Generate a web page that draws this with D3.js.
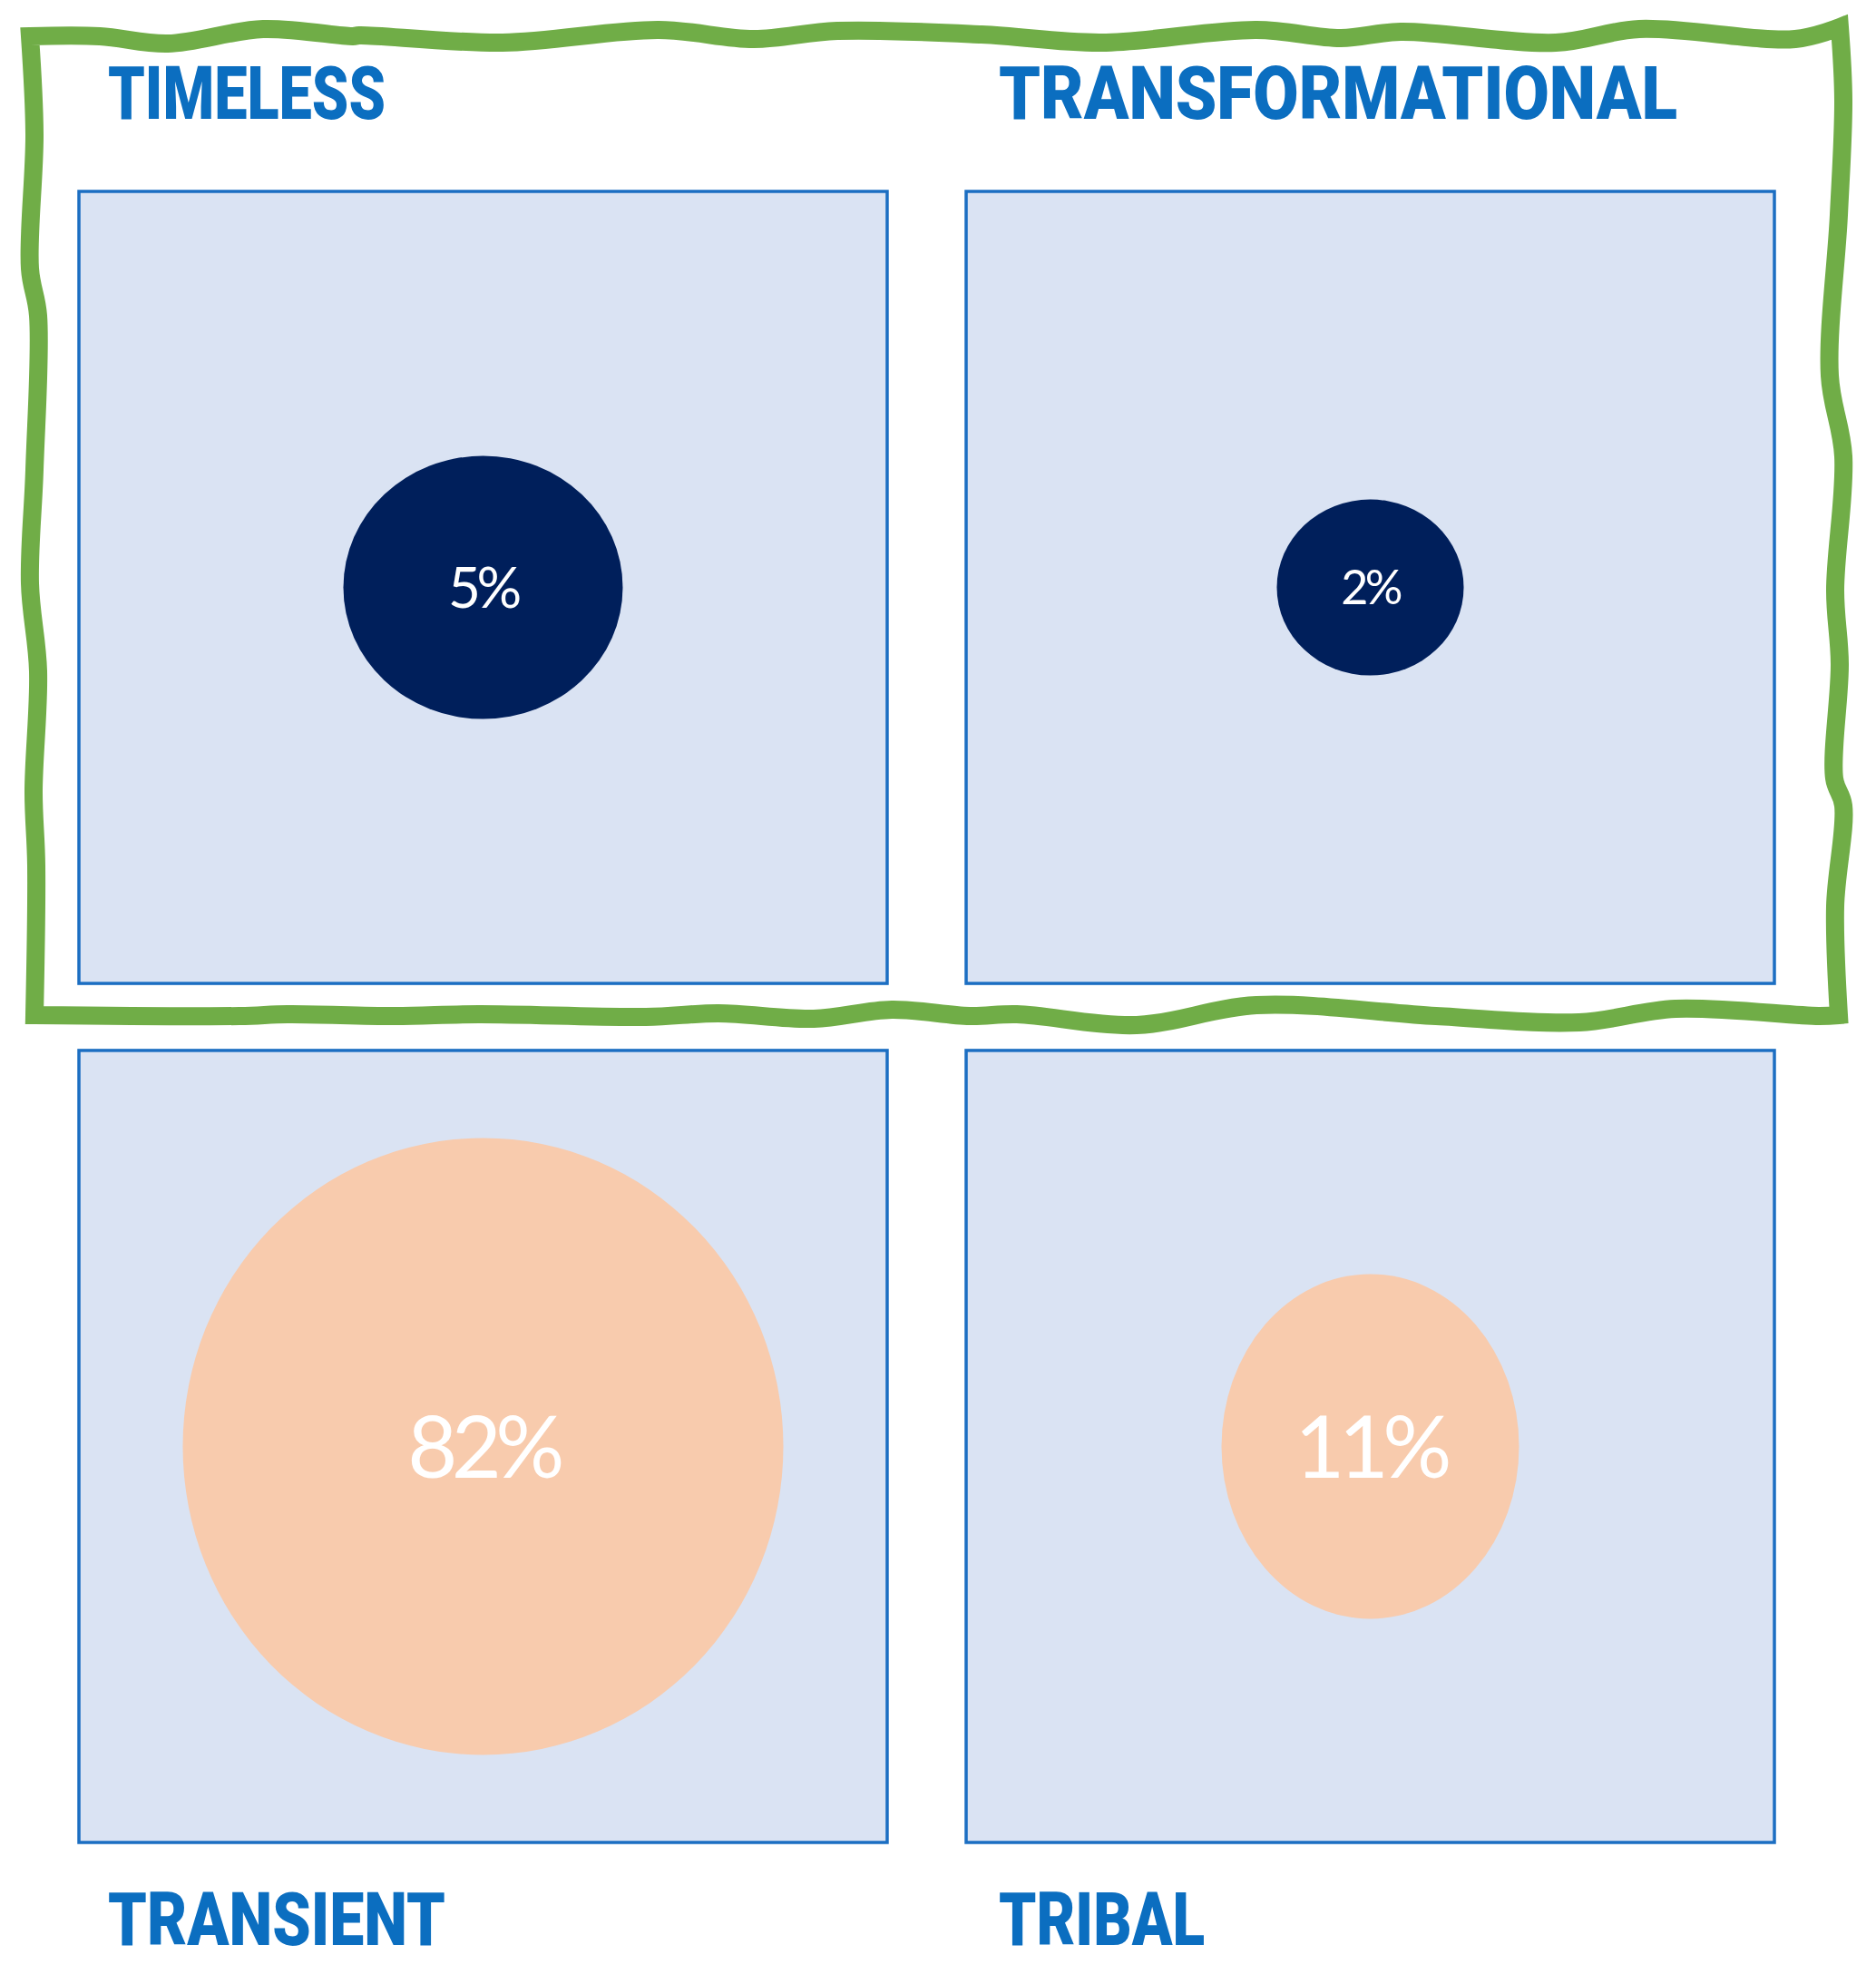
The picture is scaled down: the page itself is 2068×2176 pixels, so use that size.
<!DOCTYPE html>
<html>
<head>
<meta charset="utf-8">
<script src="https://cdn.jsdelivr.net/npm/d3@7"></script>
<style>
  body { margin: 0; background: #ffffff; }
</style>
</head>
<body>
<svg id="chart"></svg>
<script>
// data
const categories = ["TIMELESS", "TRANSFORMATIONAL", "TRANSIENT", "TRIBAL"];
const shares = [5, 2, 82, 11];
const gridCol = [0, 1, 0, 1];
const gridRow = [0, 0, 1, 1];

// hand drawn frame round the top row (decoration)
const frameTop = [[33,40],[110,40],[185,48],[290,32],[389,40],[396,39],[554,47],[726,33],[831,43],[923,34],[1082,38],[1214,47],[1385,33],[1478,42],[1544,35],[1715,47],[1807,32],[1979,43],[2028,30]];
const frameRight = [[2028,30],[2032,111],[2027,237],[2017,414],[2032,503],[2023,651],[2028,732],[2022,858],[2032,888],[2023,999],[2027,1119]];
const frameBottom = [[2027,1119],[2005,1120],[1847,1112],[1741,1127],[1583,1120],[1385,1108],[1253,1130],[1121,1118],[1069,1120],[983,1113],[897,1123],[792,1117],[712,1121],[528,1118],[435,1120],[317,1118],[264,1120],[38,1119]];
const frameLeft = [[38,1119],[40,954],[37,873],[42,740],[33,643],[38,518],[42,348],[33,296],[38,148],[33,40]];

const width = 2068;
const height = 2176;

// title widths, the titles are set in a condensed face
const titleWidth = { TIMELESS: 306, TRANSFORMATIONAL: 748, TRANSIENT: 372, TRIBAL: 227 };

const svg = d3.select("#chart").attr("width", width).attr("height", height);

const x = d3.scaleBand().domain([0, 1]).range([87, 1956]).paddingInner(0.089);
const y = d3.scaleBand().domain([0, 1]).range([211, 2031]).paddingInner(0.078);

// bubble size scales
const rx = d3.scaleLinear().domain([2, 5, 11, 82]).range([103, 154, 164, 331]);
const ry = d3.scaleLinear().domain([2, 5, 11, 82]).range([97, 145, 190, 340]);
const fontSize = d3.scaleLinear().domain([2, 5, 11]).range([52, 62, 95]).clamp(true);
const fill = d3.scaleOrdinal().domain([0, 1]).range(["#001F5B", "#F8CBAD"]);

const data = categories.map(function (c, i) {
  return { name: c, value: shares[i], col: gridCol[i], row: gridRow[i] };
});

// panels
svg
  .selectAll("rect.panel")
  .data(data)
  .enter()
  .append("rect")
  .attr("class", "panel")
  .attr("x", d => x(d.col))
  .attr("y", d => y(d.row))
  .attr("width", x.bandwidth())
  .attr("height", y.bandwidth())
  .attr("fill", "#DAE3F3")
  .attr("stroke", "#1B6EC2")
  .attr("stroke-width", 3.5);

// bubbles
svg
  .selectAll("ellipse")
  .data(data)
  .enter()
  .append("ellipse")
  .attr("cx", d => x(d.col) + x.bandwidth() / 2)
  .attr("cy", d => y(d.row) + y.bandwidth() / 2)
  .attr("rx", d => rx(d.value))
  .attr("ry", d => ry(d.value))
  .attr("fill", d => fill(d.row));

svg
  .selectAll("text.pct")
  .data(data)
  .enter()
  .append("text")
  .attr("class", "pct")
  .text(d => d.value + "%")
  .attr("x", d => x(d.col) + x.bandwidth() / 2)
  .attr("y", d => y(d.row) + y.bandwidth() / 2)
  .attr("dy", "0.36em")
  .attr("text-anchor", "middle")
  .attr("font-family", "Lato, sans-serif")
  .attr("font-weight", 400)
  .attr("font-size", d => fontSize(d.value))
  .attr("letter-spacing", "-0.07em")
  .attr("fill", "#ffffff");

// titles: above the top row, below the bottom row
svg
  .selectAll("text.title")
  .data(data)
  .enter()
  .append("text")
  .attr("class", "title")
  .text(d => d.name)
  .attr("x", d => x(d.col) + (d.col === 0 ? 32 : 36))
  .attr("y", d => (d.row === 0 ? y(d.row) - 80 : y(d.row) + y.bandwidth() + 113))
  .attr("textLength", d => titleWidth[d.name])
  .attr("lengthAdjust", "spacingAndGlyphs")
  .attr("font-family", "Roboto, 'Liberation Sans', sans-serif")
  .attr("font-weight", 900)
  .attr("font-size", 81)
  .attr("fill", "#0B6EC0");

// frame
const edge = d3.line().curve(d3.curveCatmullRom.alpha(0.5));
let framePath = [frameTop, frameRight, frameBottom, frameLeft]
  .map((pts, i) => (i === 0 ? edge(pts) : edge(pts).replace(/^M/, "L")))
  .join("") + "Z";

svg
  .append("path")
  .attr("d", framePath)
  .attr("fill", "none")
  .attr("stroke", "#70AD47")
  .attr("stroke-width", 20)
  .attr("stroke-linejoin", "miter");
</script>
</body>
</html>
